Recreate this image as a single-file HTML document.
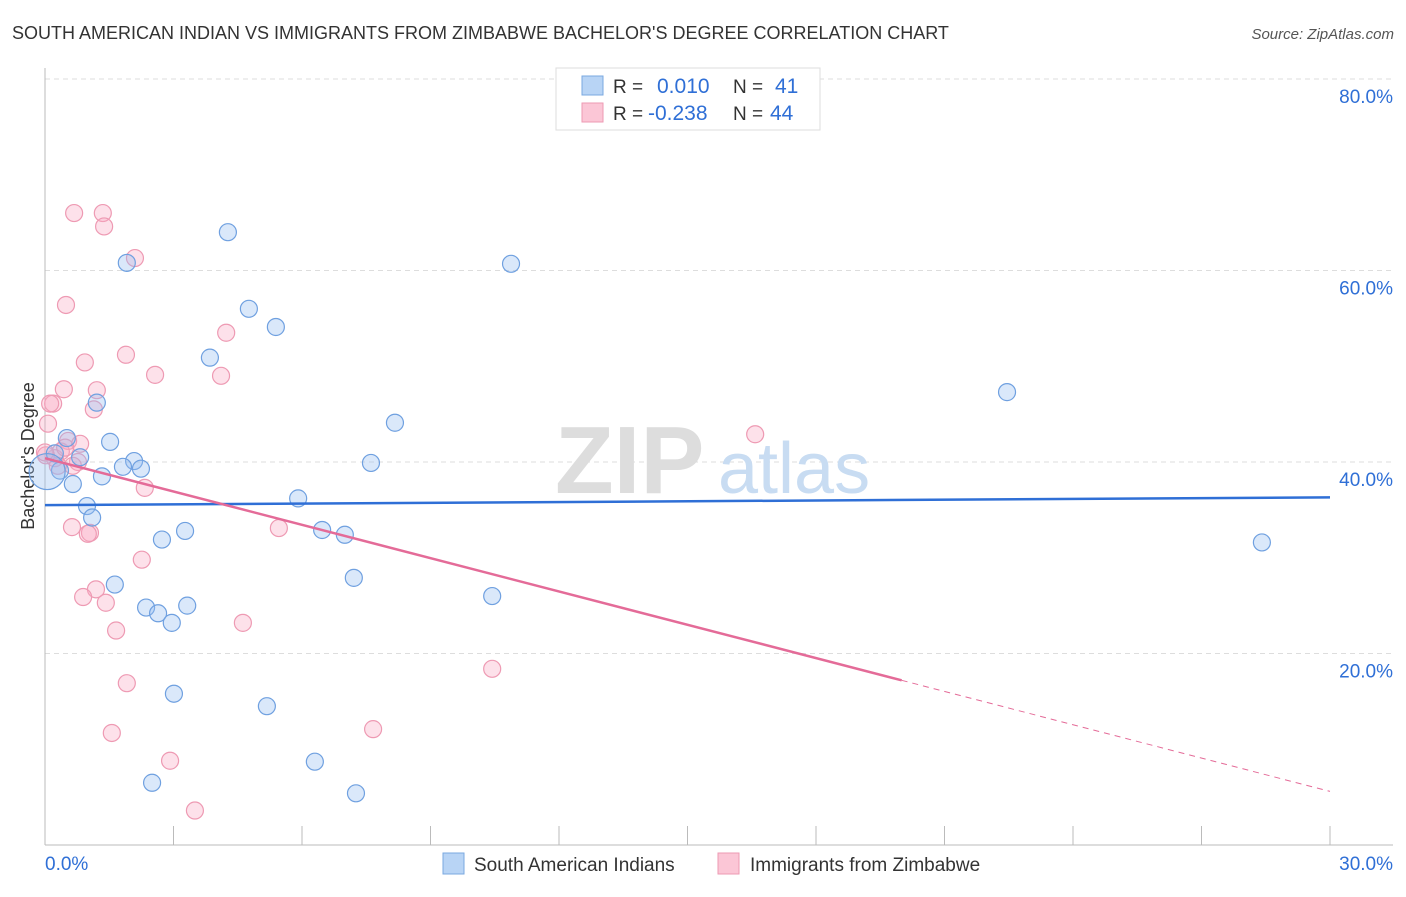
<!DOCTYPE html>
<html><head><meta charset="utf-8"><style>
body{margin:0;background:#fff;font-family:"Liberation Sans",sans-serif;}
svg text{font-family:"Liberation Sans",sans-serif;}
</style></head><body>
<svg id="chart" width="1406" height="892" xmlns="http://www.w3.org/2000/svg">
<text x="12" y="39" font-size="18" fill="#333">SOUTH AMERICAN INDIAN VS IMMIGRANTS FROM ZIMBABWE BACHELOR'S DEGREE CORRELATION CHART</text>
<text x="1394" y="39" font-size="15" fill="#555" font-style="italic" text-anchor="end">Source: ZipAtlas.com</text>
<text transform="translate(34,456) rotate(-90)" font-size="18" fill="#333" text-anchor="middle">Bachelor's Degree</text>
<g id="grid"></g>
<g>
<text x="555" y="493" font-size="96" fill="#ddd" font-family="Liberation Serif" font-weight="bold">ZIP</text>
<text x="718" y="493" font-size="72" fill="#c8dcf2">atlas</text>
</g>
<g id="pts"></g>
<g id="trends"></g>
<g>
<rect x="556" y="68" width="264" height="62" fill="#fff" stroke="#ddd"/>
<rect x="582" y="76" width="21" height="19" fill="#b8d4f5" stroke="#7aa8e0"/>
<rect x="582" y="103" width="21" height="19" fill="#fbc6d6" stroke="#ee9ab3"/>
<text x="613" y="93" font-size="19" fill="#333">R =</text>
<text x="657" y="93" font-size="21" fill="#2f6fd6">0.010</text>
<text x="733" y="93" font-size="19" fill="#333">N =</text>
<text x="775" y="93" font-size="21" fill="#2f6fd6">41</text>
<text x="613" y="120" font-size="19" fill="#333">R =</text>
<text x="648" y="120" font-size="21" fill="#2f6fd6">-0.238</text>
<text x="733" y="120" font-size="19" fill="#333">N =</text>
<text x="770" y="120" font-size="21" fill="#2f6fd6">44</text>
</g>
<g>
<rect x="443" y="853" width="21" height="21" fill="#b8d4f5" stroke="#7aa8e0"/>
<text x="474" y="871" font-size="19" fill="#333">South American Indians</text>
<text x="750" y="871" font-size="19" fill="#333">Immigrants from Zimbabwe</text>
<rect x="718" y="853" width="21" height="21" fill="#fbc6d6" stroke="#ee9ab3"/>
</g>
</svg>
<script>
const yTicks=[20,40,60,80];
const xTickLabels=["0.0%","30.0%"];
const blueX=[4.27,1.91,10.88,4.76,5.39,3.85,1.21,8.17,1.52,0.51,2.08,1.82,2.24,7.61,0.35,1.33,0.65,5.91,0.98,1.10,3.27,2.73,6.47,7.00,7.21,1.63,2.36,2.64,3.32,2.96,10.44,3.01,5.18,6.30,2.50,7.26,22.46,28.41,0.23,0.82,0.05];
const blueY=[64.0,60.8,60.7,56.0,54.1,50.9,46.2,44.1,42.1,42.5,40.1,39.5,39.3,39.9,39.1,38.5,37.7,36.2,35.4,34.2,32.8,31.9,32.9,32.4,27.9,27.2,24.8,24.2,25.0,23.2,26.0,15.8,14.5,8.7,6.5,5.4,47.3,31.6,40.9,40.5,39.0];
const pinkX=[0.68,1.35,1.38,2.10,0.49,4.23,0.93,1.89,2.57,4.11,0.44,1.21,0.19,0.07,1.14,16.58,0.54,0.82,0.37,0.23,0.77,0.65,0.02,2.33,5.46,0.63,1.05,1.00,2.26,1.19,0.89,1.42,1.66,4.62,10.44,1.91,1.56,7.66,2.92,3.50,0.12,0.0,0.30,0.47];
const pinkY=[66.0,66.0,64.6,61.3,56.4,53.5,50.4,51.2,49.1,49.0,47.6,47.5,46.1,44.0,45.5,42.9,42.2,41.9,41.1,40.4,40.0,39.6,40.7,37.3,33.1,33.2,32.6,32.5,29.8,26.7,25.9,25.3,22.4,23.2,18.4,16.9,11.7,12.1,8.8,3.6,46.1,41.0,39.6,41.5];
const blueTrend=[35.5,36.3];
const pinkTrend=[40.4,-1.16];
const NS="http://www.w3.org/2000/svg";
const X=v=>45+v/30*1285, Y=v=>845-v/20*191.5;
function mk(t,a,p){const e=document.createElementNS(NS,t);for(const k in a)e.setAttribute(k,a[k]);p.appendChild(e);return e;}
const grid=document.getElementById('grid');
yTicks.forEach(t=>{
 const l=mk('line',{x1:45,x2:1393,y1:Y(t),y2:Y(t),stroke:'#ddd','stroke-dasharray':'5,4'},grid);
 
 
 const tx=mk('text',{x:1393,y:Y(t)+24,'font-size':19,fill:'#2f6fd6','text-anchor':'end'},grid);
 tx.textContent=t.toFixed(1)+'%';
 
 
});
const ax=mk('line',{x1:45,x2:45,y1:68,y2:845,stroke:'#bbb'},grid);


const bx=mk('line',{x1:45,x2:1393,y1:845,y2:845,stroke:'#bbb'},grid);


for(let i=0;i<=10;i++){
 const tk=mk('line',{x1:X(i*3),x2:X(i*3),y1:826,y2:845,stroke:'#bbb'},grid);
 
 
}
[[0,'start',45],[30,'end',1393]].forEach((d,i)=>{
 const t=mk('text',{x:d[2],y:870,'font-size':19,fill:'#2f6fd6','text-anchor':d[1]},grid);
 t.textContent=xTickLabels[i];
 
 
});
const pts=document.getElementById('pts');
pinkX.forEach((x,i)=>{
 const c=mk('circle',{cx:X(x),cy:Y(pinkY[i]),r:8.5,fill:'rgba(248,170,195,0.35)',stroke:'#ee9ab3','stroke-width':1.2},pts);
 
 
});
blueX.forEach((x,i)=>{
 const c=mk('circle',{cx:X(x),cy:Y(blueY[i]),r:i===blueX.length-1?18:8.5,fill:'rgba(150,190,240,0.35)',stroke:'#6fa0e0','stroke-width':1.2},pts);
 
 
});
const tr=document.getElementById('trends');
const bl=mk('line',{x1:X(0),y1:Y(blueTrend[0]),x2:X(30),y2:Y(blueTrend[1]),stroke:'#2f6fd6','stroke-width':2.5},tr);


const pf=x=>pinkTrend[0]+pinkTrend[1]*x;
const pl=mk('line',{x1:X(0),y1:Y(pf(0)),x2:X(20),y2:Y(pf(20)),stroke:'#e46b98','stroke-width':2.5},tr);


const pd=mk('line',{x1:X(20),y1:Y(pf(20)),x2:X(30),y2:Y(pf(30)),stroke:'#e46b98','stroke-width':1,'stroke-dasharray':'6,5'},tr);


</script>
</body></html>
